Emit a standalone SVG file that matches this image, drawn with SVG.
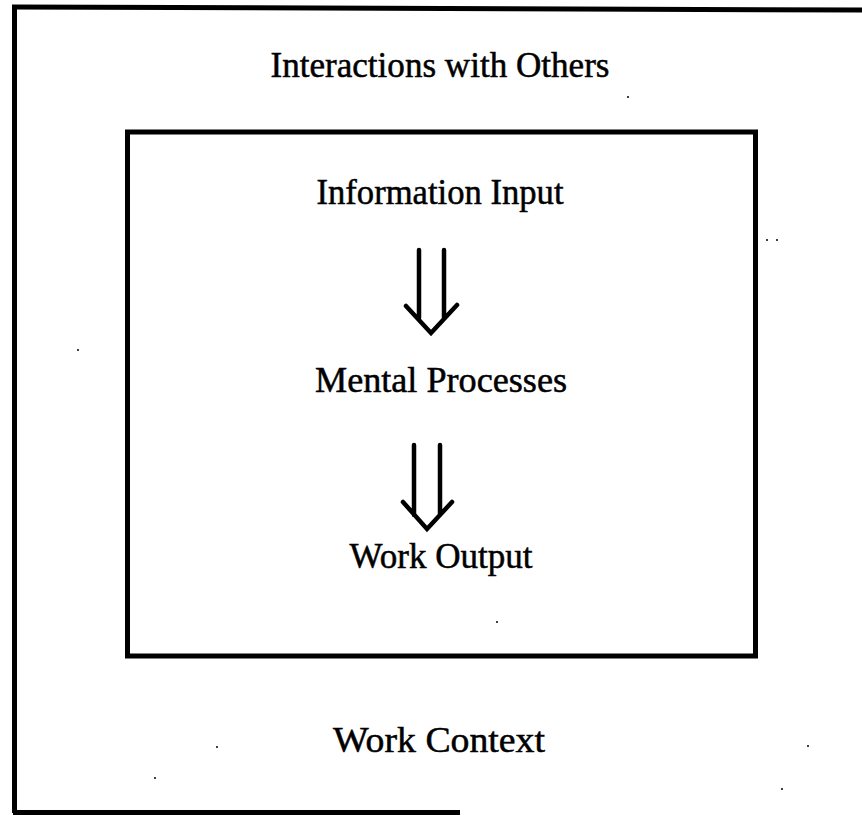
<svg xmlns="http://www.w3.org/2000/svg" width="862" height="815" viewBox="0 0 862 815">
  <style>
    .lbl { font-family: "Liberation Serif", "Times New Roman", serif; font-size: 35px; fill: #000; stroke: #000; stroke-width: 0.5; text-anchor: middle; }
    .frame { fill: none; stroke: #000; stroke-width: 5; }
    .arrow { fill: none; stroke: #000; stroke-width: 4.5; stroke-linecap: round; stroke-linejoin: miter; }
    .speck { fill: #000; }
  </style>
  <rect width="862" height="815" fill="#fff"/>

  <!-- outer context frame (open on the right) -->
  <g id="work-context">
    <path class="frame" d="M12,7 L862,10"/>
    <path class="frame" d="M14.5,5 L14.5,813" stroke-width="4"/>
    <path class="frame" d="M13,812.5 L460,812.5" stroke-width="3"/>
    <text class="lbl" x="439" y="752" textLength="212" lengthAdjust="spacingAndGlyphs">Work Context</text>
  </g>

  <g id="interactions">
    <text class="lbl" x="440" y="77" textLength="339" lengthAdjust="spacingAndGlyphs">Interactions with Others</text>
  </g>

  <!-- inner process box -->
  <g id="process-box">
    <rect class="frame" x="127.5" y="132" width="628" height="524"/>
  </g>

  <g id="information-input">
    <text class="lbl" x="440" y="204" textLength="247" lengthAdjust="spacingAndGlyphs">Information Input</text>
  </g>
  <g id="mental-processes">
    <text class="lbl" x="441" y="392" textLength="252" lengthAdjust="spacingAndGlyphs">Mental Processes</text>
  </g>
  <g id="work-output">
    <text class="lbl" x="441" y="568" textLength="183" lengthAdjust="spacingAndGlyphs">Work Output</text>
  </g>

  <!-- double-shafted arrows -->
  <g id="connectors">
    <path class="arrow" d="M419,250 L419,318 M444,250 L444,318 M406,306 L431,333 L457,305"/>
    <path class="arrow" d="M414,445 L414,515 M440,445 L440,515 M403,502 L427,529 L452,502"/>
  </g>

  <!-- scattered specks -->
  <g id="specks">
    <circle class="speck" cx="628" cy="97" r="1"/>
    <circle class="speck" cx="767" cy="240" r="1"/>
    <circle class="speck" cx="777" cy="240" r="1"/>
    <circle class="speck" cx="78" cy="350" r="1"/>
    <circle class="speck" cx="497" cy="622" r="1"/>
    <circle class="speck" cx="217" cy="747" r="1"/>
    <circle class="speck" cx="155" cy="778" r="1"/>
    <circle class="speck" cx="808" cy="746" r="1"/>
    <circle class="speck" cx="782" cy="789" r="1"/>
  </g>
</svg>
